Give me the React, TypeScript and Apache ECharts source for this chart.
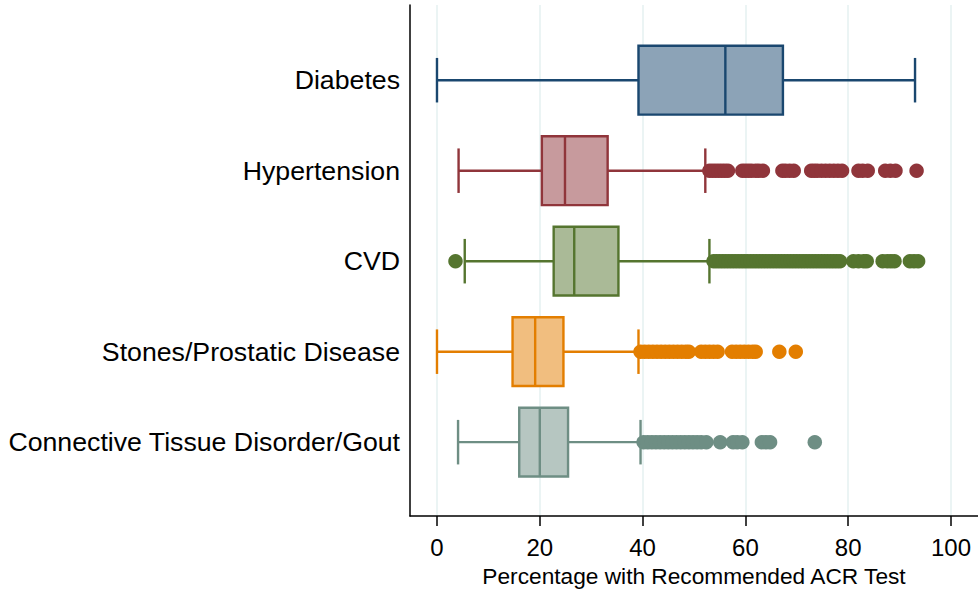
import React, { useEffect, useRef } from "react";
import * as echarts from "echarts";

const categories = [
  "Diabetes",
  "Hypertension",
  "CVD",
  "Stones/Prostatic Disease",
  "Connective Tissue Disorder/Gout",
];

// [whisker low, Q1, median, Q3, whisker high]
const boxStats = [
  [0, 39.2, 56.1, 67.3, 93.0],
  [4.2, 20.4, 24.9, 33.2, 52.2],
  [5.4, 22.7, 26.7, 35.3, 53.0],
  [0, 14.7, 19.1, 24.6, 39.2],
  [4.1, 16.0, 20.0, 25.5, 39.6],
];

const diabetesOutliers: number[] = [];
const hypertensionOutliers = [
  53.0, 53.6, 54.2, 54.8, 55.4, 56.0, 56.6,
  59.4, 60.0, 60.6, 61.2, 62.0, 62.6, 63.4,
  67.2, 67.8, 68.6, 69.4, 72.8, 73.4, 74.0, 74.8, 75.6, 76.4, 77.2, 78.0, 78.8,
  82.0, 82.8, 83.8, 87.2, 88.2, 89.2, 93.3,
];
const cvdOutliers = [
  3.6,
  53.8, 54.4, 55.0, 55.6, 56.2, 56.8, 57.4, 58.0, 58.6, 59.2, 59.8, 60.4, 61.0, 61.6,
  62.2, 62.8, 63.4, 64.0, 64.6, 65.2, 65.8, 66.4, 67.0, 67.6, 68.2, 68.8, 69.4, 70.0,
  70.6, 71.2, 71.8, 72.4, 73.0, 73.6, 74.2, 74.8, 75.4, 76.0, 76.6, 77.2, 77.8, 78.4,
  81.0, 82.0, 83.0, 83.6, 86.7, 87.6, 88.3, 89.0, 92.0, 92.8, 93.6,
];
const stonesOutliers = [
  39.6, 40.4, 41.2, 42.0, 42.8, 43.6, 44.4, 45.2, 46.0, 46.8, 47.6, 48.4, 49.0,
  51.4, 52.2, 53.0, 53.8, 54.6,
  57.4, 58.2, 59.0, 59.8, 60.6, 61.4, 62.0,
  66.6, 69.8,
];
const connectiveOutliers = [
  40.2, 41.0, 41.8, 42.6, 43.4, 44.2, 45.0, 45.8, 46.6, 47.4, 48.2, 49.0, 49.8,
  50.6, 51.4, 52.4,
  55.1, 57.6, 58.4, 59.4, 63.2, 64.0, 64.8, 73.5,
];
const outliers = [
  diabetesOutliers,
  hypertensionOutliers,
  cvdOutliers,
  stonesOutliers,
  connectiveOutliers,
];

const xTicks = [0, 20, 40, 60, 80, 100];
const xTitle = "Percentage with Recommended ACR Test";

const lineColors = ["#1a476f", "#90353b", "#55752f", "#e37e00", "#6e8e84"];
const fillColors = ["#8ca3b7", "#c79a9d", "#aaba97", "#f1be7f", "#b6c6c1"];

const FONT = "'Liberation Sans', Arial, sans-serif";

export default function App() {
  const ref = useRef<HTMLDivElement>(null);

  useEffect(() => {
    if (!ref.current) return;
    const chart = echarts.init(ref.current, null, { renderer: "svg" });

    const boxData = boxStats.map((s, i) => [i + 1, ...s]);
    const BOX_HALF = 0.38;
    const CAP_HALF = 0.246;

    const scatterSeries = outliers.map((arr, i) => ({
      type: "scatter",
      name: categories[i],
      data: arr.map((v) => [v, i + 1]),
      symbol: "circle",
      symbolSize: 14.5,
      itemStyle: { color: lineColors[i], opacity: 1 },
      z: 3,
      silent: true,
    }));

    chart.setOption({
      animation: false,
      backgroundColor: "#ffffff",
      textStyle: { fontFamily: FONT },
      grid: { left: 410, right: 0, top: 5, bottom: 70.5, containLabel: false },
      xAxis: {
        type: "value",
        min: -5.25,
        max: 105.25,
        axisLine: { show: true, onZero: false, lineStyle: { color: "#000000", width: 1.5 } },
        axisTick: {
          show: true,
          customValues: xTicks,
          length: 10,
          lineStyle: { color: "#000000", width: 1.5 },
        },
        axisLabel: {
          customValues: xTicks,
          fontSize: 24,
          color: "#000000",
          margin: 19,
          fontFamily: FONT,
        },
        splitLine: { show: true, lineStyle: { color: "#e4f0f1", width: 1.5 } },
        name: xTitle,
        nameLocation: "middle",
        nameGap: 45,
        nameTextStyle: { fontSize: 22.7, color: "#000000", fontFamily: FONT },
      },
      yAxis: {
        type: "value",
        inverse: true,
        min: 0.169,
        max: 5.817,
        axisLine: { show: true, onZero: false, lineStyle: { color: "#000000", width: 1.5 } },
        axisTick: { show: false, customValues: [1, 2, 3, 4, 5] },
        axisLabel: {
          customValues: [1, 2, 3, 4, 5],
          formatter: (v: number) => categories[Math.round(v) - 1] ?? "",
          fontSize: 26.7,
          color: "#000000",
          margin: 10,
          fontFamily: FONT,
        },
        splitLine: { show: false },
      },
      series: [
        {
          type: "custom",
          data: boxData,
          z: 2,
          silent: true,
          renderItem: (params: any, api: any) => {
            const y = api.value(0);
            const idx = Math.round(y) - 1;
            const lo = api.value(1);
            const q1 = api.value(2);
            const med = api.value(3);
            const q3 = api.value(4);
            const hi = api.value(5);
            const pLo = api.coord([lo, y]);
            const pQ1 = api.coord([q1, y]);
            const pMed = api.coord([med, y]);
            const pQ3 = api.coord([q3, y]);
            const pHi = api.coord([hi, y]);
            const bh = api.size([0, BOX_HALF])[1];
            const ch = api.size([0, CAP_HALF])[1];
            const cy = pLo[1];
            const stroke = lineColors[idx];
            const lineStyle = { stroke, lineWidth: 2.4 };
            return {
              type: "group",
              children: [
                { type: "line", shape: { x1: pLo[0], y1: cy, x2: pQ1[0], y2: cy }, style: lineStyle },
                { type: "line", shape: { x1: pQ3[0], y1: cy, x2: pHi[0], y2: cy }, style: lineStyle },
                { type: "line", shape: { x1: pLo[0], y1: cy - ch, x2: pLo[0], y2: cy + ch }, style: lineStyle },
                { type: "line", shape: { x1: pHi[0], y1: cy - ch, x2: pHi[0], y2: cy + ch }, style: lineStyle },
                {
                  type: "rect",
                  shape: { x: pQ1[0], y: cy - bh, width: pQ3[0] - pQ1[0], height: 2 * bh },
                  style: { fill: fillColors[idx], stroke, lineWidth: 2.4 },
                },
                { type: "line", shape: { x1: pMed[0], y1: cy - bh, x2: pMed[0], y2: cy + bh }, style: lineStyle },
              ],
            };
          },
        },
        ...scatterSeries,
      ],
    });

    return () => chart.dispose();
  }, []);

  return (
    <div
      ref={ref}
      style={{ position: "fixed", left: 0, top: 0, width: 978, height: 592, background: "#fff" }}
    />
  );
}
